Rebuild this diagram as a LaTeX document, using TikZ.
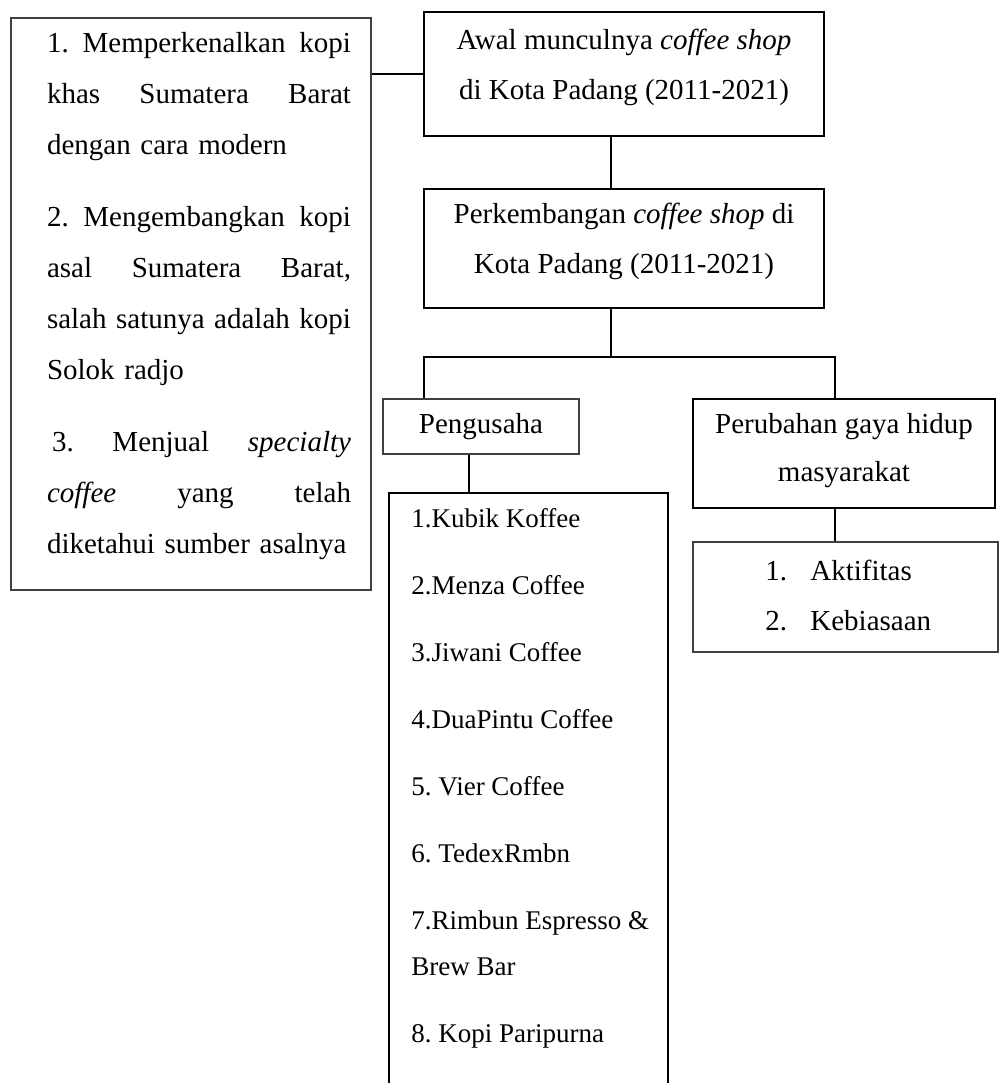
\documentclass[tikz,border=0pt]{standalone}
\usepackage{fontspec}
\setmainfont{Liberation Serif}

\tikzset{
    kotak/.style={draw, line width=1.4pt, inner sep=0pt},
    kotaktipis/.style={draw=black!75, line width=0.7pt, inner sep=0pt},
    garis/.style={line width=1.3pt},
    teks/.style={inner sep=0pt, align=center, font=\fontsize{14.5}{25}\selectfont},
}
% justified line across the left box
\newcommand{\rata}[1]{{\spaceskip=0pt\xspaceskip=0pt\makebox[152pt][s]{#1}}}
\frenchspacing

\begin{document}
\begin{tikzpicture}[x=0.5pt,y=-0.5pt]
\useasboundingbox (0,0) rectangle (1000,1083);

% Variables: boxes placed at their centres.
\node[kotaktipis, minimum width=180pt, minimum height=286pt] (KOPI) at (191,304) {};
\node[kotak, minimum width=200pt, minimum height=62pt] (AWAL) at (624,74) {};
\node[kotak, minimum width=200pt, minimum height=59.5pt] (PERKEMBANGAN) at (624,248.5) {};
\node[kotaktipis, minimum width=98pt, minimum height=27.5pt] (PENGUSAHA) at (481,426.5) {};
\node[kotak, minimum width=139.5pt, minimum height=297pt] (DAFTAR) at (528.5,790) {};
\node[kotak, minimum width=151pt, minimum height=54.5pt] (GAYA) at (844,453.5) {};
\node[kotaktipis, minimum width=152.5pt, minimum height=55pt] (AKTIVITAS) at (845.5,597) {};

\coordinate (PUSAT) at (611,357);
\coordinate (KIRI) at (424,357);
\coordinate (KANAN) at (835,357);
\coordinate (TURUN) at (469,475);

\draw[garis] (AWAL.west) -- (AWAL.west -| KOPI.east);
\draw[garis] (AWAL.south -| PUSAT) -- (PERKEMBANGAN.north -| PUSAT);
\draw[garis] (PERKEMBANGAN.south -| PUSAT) -- (PUSAT);
\draw[garis] (PENGUSAHA.north -| KIRI) -- (KIRI) -- (KANAN) -- (GAYA.north -| KANAN);
\draw[garis] (PENGUSAHA.south -| TURUN) -- (DAFTAR.north -| TURUN);
\draw[garis] (GAYA.south -| KANAN) -- (AKTIVITAS.north -| KANAN);

\node[teks, align=left, text width=152pt, font=\fontsize{14.5}{25.5}\selectfont] (KOPITEKS) at (199,296) {
    \rata{1. Memperkenalkan kopi}\\
    \rata{khas Sumatera Barat}\\
    dengan cara modern\\[10.5pt]
    \rata{2. Mengembangkan kopi}\\
    \rata{asal Sumatera Barat,}\\
    \rata{salah satunya adalah kopi}\\
    Solok radjo\\[10.5pt]
    \rata{\hspace*{2.5pt}3. Menjual \textit{specialty}}\\
    \rata{\textit{coffee} yang telah}\\
    diketahui sumber asalnya};
\node[teks] (AWALTEKS) at (624,67) {Awal munculnya \textit{coffee shop}\\di Kota Padang (2011-2021)};
\node[teks] (PERKEMBANGANTEKS) at (624,241) {Perkembangan \textit{coffee shop} di\\Kota Padang (2011-2021)};
\node[teks] (PENGUSAHATEKS) at (481,427) {Pengusaha};
\node[teks, font=\fontsize{14.5}{24}\selectfont] (GAYATEKS) at (844,451) {Perubahan gaya hidup\\masyarakat};
\node[teks, align=left, anchor=west] (AKTIVITASTEKS) at (765,595) {\makebox[22.5pt][l]{1.}Aktifitas\\\makebox[22.5pt][l]{2.}Kebiasaan};
\node[teks, align=left, anchor=west, font=\fontsize{13.5}{23}\selectfont] (DAFTARTEKS) at (411,778.5) {
    1.Kubik Koffee\\[10.5pt]
    2.Menza Coffee\\[10.5pt]
    3.Jiwani Coffee\\[10.5pt]
    4.DuaPintu Coffee\\[10.5pt]
    5. Vier Coffee\\[10.5pt]
    6. TedexRmbn\\[10.5pt]
    7.Rimbun Espresso \&\\
    Brew Bar\\[10.5pt]
    8. Kopi Paripurna};
\end{tikzpicture}
\end{document}
